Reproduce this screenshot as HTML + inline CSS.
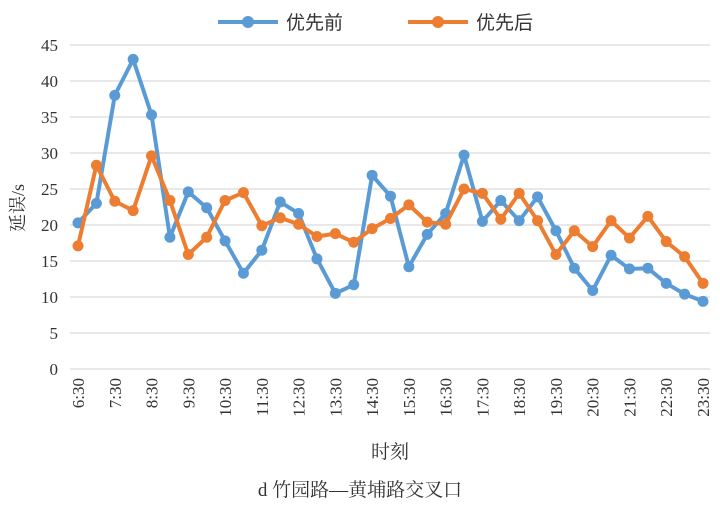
<!DOCTYPE html>
<html><head><meta charset="utf-8"><style>
body{margin:0;background:#fff;}
svg text{font-family:"Liberation Serif","Noto Serif CJK SC",serif;fill:#333;}
</style></head><body>
<svg width="720" height="506">
<g id="grid"></g><g id="ylab"></g><g id="xlab"></g><g id="series"></g>
<g>
 <g>
  <line x1="218" y1="22" x2="278" y2="22" stroke="#5b9bd5" stroke-width="4"/><circle cx="248" cy="22" r="6" fill="#5b9bd5"/>
  <text x="286" y="29" font-size="19" style="font-family:'Liberation Sans','Noto Sans CJK SC',sans-serif">优先前</text></g>
 <g>
  <line x1="408" y1="22" x2="468" y2="22" stroke="#ed7d31" stroke-width="4"/><circle cx="438" cy="22" r="6" fill="#ed7d31"/>
  <text x="476" y="29" font-size="19" style="font-family:'Liberation Sans','Noto Sans CJK SC',sans-serif">优先后</text></g>
</g>
<text transform="translate(24,208) rotate(-90)" text-anchor="middle" font-size="18">延误/s</text>
<text x="390" y="458" text-anchor="middle" font-size="19">时刻</text>
<text x="360" y="496" text-anchor="middle" font-size="19">d 竹园路—黄埔路交叉口</text>
</svg>
<script>
const times=["6:30","7:00","7:30","8:00","8:30","9:00","9:30","10:00","10:30","11:00","11:30","12:00","12:30","13:00","13:30","14:00","14:30","15:00","15:30","16:00","16:30","17:00","17:30","18:00","18:30","19:00","19:30","20:00","20:30","21:00","21:30","22:00","22:30","23:00","23:30"];
const before=[20.3,23,38,43,35.3,18.3,24.6,22.4,17.8,13.3,16.5,23.2,21.6,15.3,10.5,11.7,26.9,24,14.2,18.7,21.6,29.7,20.5,23.4,20.6,23.9,19.2,14,10.9,15.8,13.9,14,11.9,10.4,9.4];
const after=[17.1,28.3,23.3,22,29.6,23.4,15.9,18.3,23.4,24.5,19.9,21,20.1,18.4,18.8,17.6,19.5,20.9,22.8,20.4,20.1,25,24.4,20.8,24.4,20.6,15.9,19.2,17,20.6,18.2,21.2,17.7,15.6,11.9];
const yTicks=[0,5,10,15,20,25,30,35,40,45];
const NS="http://www.w3.org/2000/svg";
const y=v=>369-v*7.2, x=i=>78+i*(625/34);
function mk(t,a,p){const e=document.createElementNS(NS,t);for(const k in a)e.setAttribute(k,a[k]);document.getElementById(p).appendChild(e);return e;}
yTicks.forEach(v=>{
 const l=mk('line',{x1:70,x2:710,y1:y(v),y2:y(v),stroke:'#d9d9d9','stroke-width':1.3},'grid');
 
 
 const t=mk('text',{x:58,y:y(v)+6,'text-anchor':'end','font-size':17},'ylab');t.textContent=v;
 
 
});
times.forEach((s,i)=>{if(i%2)return;
 const t=mk('text',{transform:`translate(${x(i)+6},378) rotate(-90)`,'text-anchor':'end','font-size':17},'xlab');t.textContent=s;
 
 
});
[[before,'#5b9bd5','before'],[after,'#ed7d31','after']].forEach(([d,c,n])=>{
 const p=mk('polyline',{points:d.map((v,i)=>x(i)+','+y(v)).join(' '),fill:'none',stroke:c,'stroke-width':4,'stroke-linejoin':'round'},'series');
 
 
 d.forEach((v,i)=>{const m=mk('circle',{cx:x(i),cy:y(v),r:5.5,fill:c},'series');
  
  });
});
</script>
</body></html>
